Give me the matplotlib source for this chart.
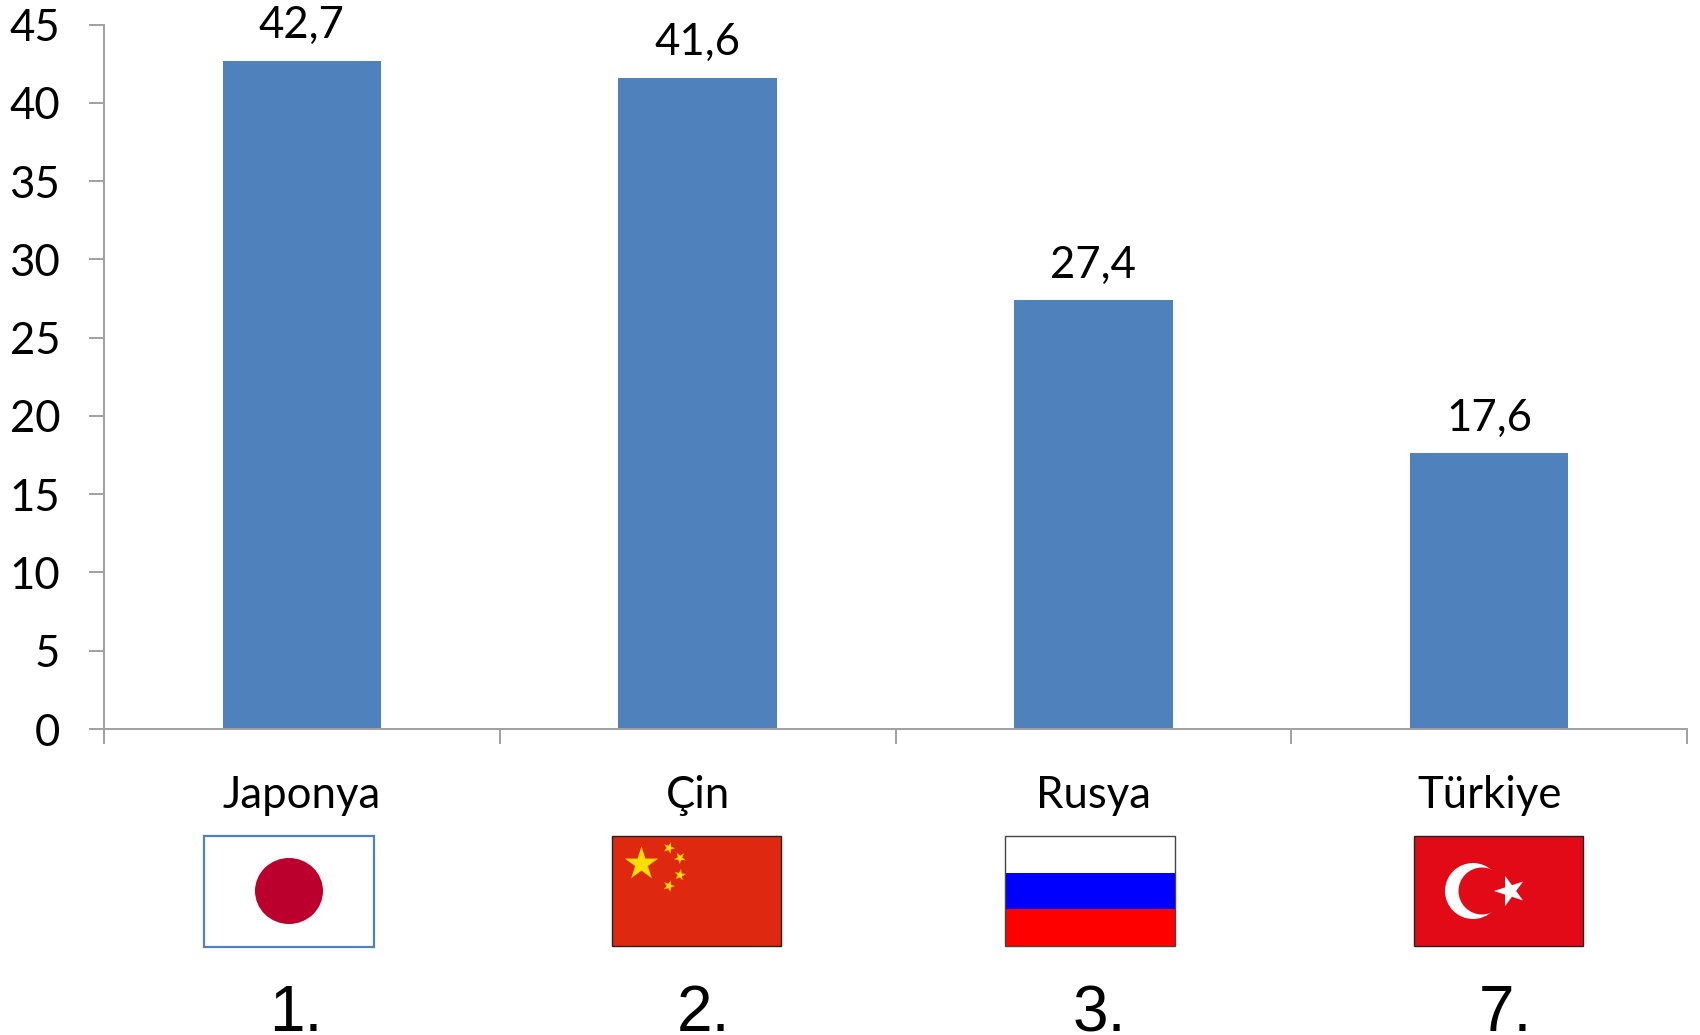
import numpy as np
import matplotlib
matplotlib.use("Agg")
import matplotlib.pyplot as plt
from matplotlib.patches import Rectangle, Ellipse, Polygon, Circle

categories = ["Japonya", "Çin", "Rusya", "Türkiye"]
values = [42.7, 41.6, 27.4, 17.6]
value_labels = ["42,7", "41,6", "27,4", "17,6"]
ranks = ["1.", "2.", "3.", "7."]
y_ticks = [0, 5, 10, 15, 20, 25, 30, 35, 40, 45]

W, H = 1700, 1035
GRAY = "#a0a0a0"
BLUE = "#4f81bd"
FS = 31.5
plt.rcParams["font.family"] = ["Lato", "DejaVu Sans"]

fig = plt.figure(figsize=(W / 100, H / 100), dpi=100, facecolor="white")
ax = fig.add_axes([104 / W, (H - 729) / H, (1687 - 104) / W, (729 - 24.5) / H])
x = np.arange(len(categories))
ax.bar(x, values, width=0.4, color=BLUE)
ax.set_xlim(-0.5, 3.5)
ax.set_ylim(0, 45)
for s in ("top", "right"):
    ax.spines[s].set_visible(False)
for s in ("left", "bottom"):
    ax.spines[s].set_color(GRAY)
    ax.spines[s].set_linewidth(1.4)
ax.set_yticks(y_ticks)
ax.tick_params(axis="y", length=10.5, width=1.4, color=GRAY, pad=21, labelsize=FS)
ax.set_xticks(np.arange(len(categories) + 1) - 0.5)
ax.set_xticklabels([])
ax.tick_params(axis="x", which="major", length=10.5, width=1.4, color=GRAY)
ax.set_xticks(x, minor=True)
ax.set_xticklabels(categories, minor=True, fontsize=FS)
ax.tick_params(axis="x", which="minor", length=0, pad=33)
for xi, v, t in zip(x, values, value_labels):
    ax.annotate(t, (xi, v), xytext=(0, 10.5), textcoords="offset points",
                ha="center", va="bottom", fontsize=FS, annotation_clip=False)

# Overlay in pixel coordinates for the flags and the rank labels
ov = fig.add_axes([0, 0, 1, 1], facecolor="none")
ov.set_xlim(0, W)
ov.set_ylim(H, 0)
ov.axis("off")


def star(cx, cy, r, rot=0.0, color="#ffde00"):
    ang = np.deg2rad(-90 + rot + np.arange(10) * 36)
    rad = np.where(np.arange(10) % 2 == 0, r, r * 0.382)
    ov.add_patch(Polygon(np.c_[cx + rad * np.cos(ang), cy + rad * np.sin(ang)],
                         closed=True, fc=color, ec="none", zorder=4))


top, bot = 836, 946
# Japan
ov.add_patch(Rectangle((204, top), 170, bot - top + 0.5, fc="white", ec=BLUE, lw=1.6))
ov.add_patch(Ellipse((289, 891), 68, 66, fc="#bc002d", ec="none"))
# China
ov.add_patch(Rectangle((612.5, top), 169, bot - top, fc="#de2910", ec="#222222", lw=1.0))
star(641.5, 864, 17.5)
star(669, 848, 6, 20)
star(680, 858, 6, 40)
star(680, 875, 6, 10)
star(669, 886, 6, 20)
# Russia
h3 = (bot - top) / 3
ov.add_patch(Rectangle((1005.5, top), 169.5, h3, fc="white", ec="none"))
ov.add_patch(Rectangle((1005.5, top + h3), 169.5, h3, fc="#0000ff", ec="none"))
ov.add_patch(Rectangle((1005.5, top + 2 * h3), 169.5, h3, fc="#ff0000", ec="none"))
ov.add_patch(Rectangle((1005.5, top), 169.5, bot - top, fc="none", ec="#444444", lw=1.0))
# Turkey
ov.add_patch(Rectangle((1414, top), 169, bot - top, fc="#e30a17", ec="#222222", lw=1.0))
ov.add_patch(Circle((1473, 891), 28, fc="white", ec="none"))
ov.add_patch(Circle((1482, 891), 23.5, fc="#e30a17", ec="none"))
star(1510, 891, 16, -90, "white")

rank_x = [296, 704, 1099, 1505]
for rx, r in zip(rank_x, ranks):
    ov.text(rx, 1031, r, ha="center", va="baseline", fontsize=46,
            family="Liberation Sans", color="black")

fig.savefig("out.png", dpi=100, facecolor="white")
